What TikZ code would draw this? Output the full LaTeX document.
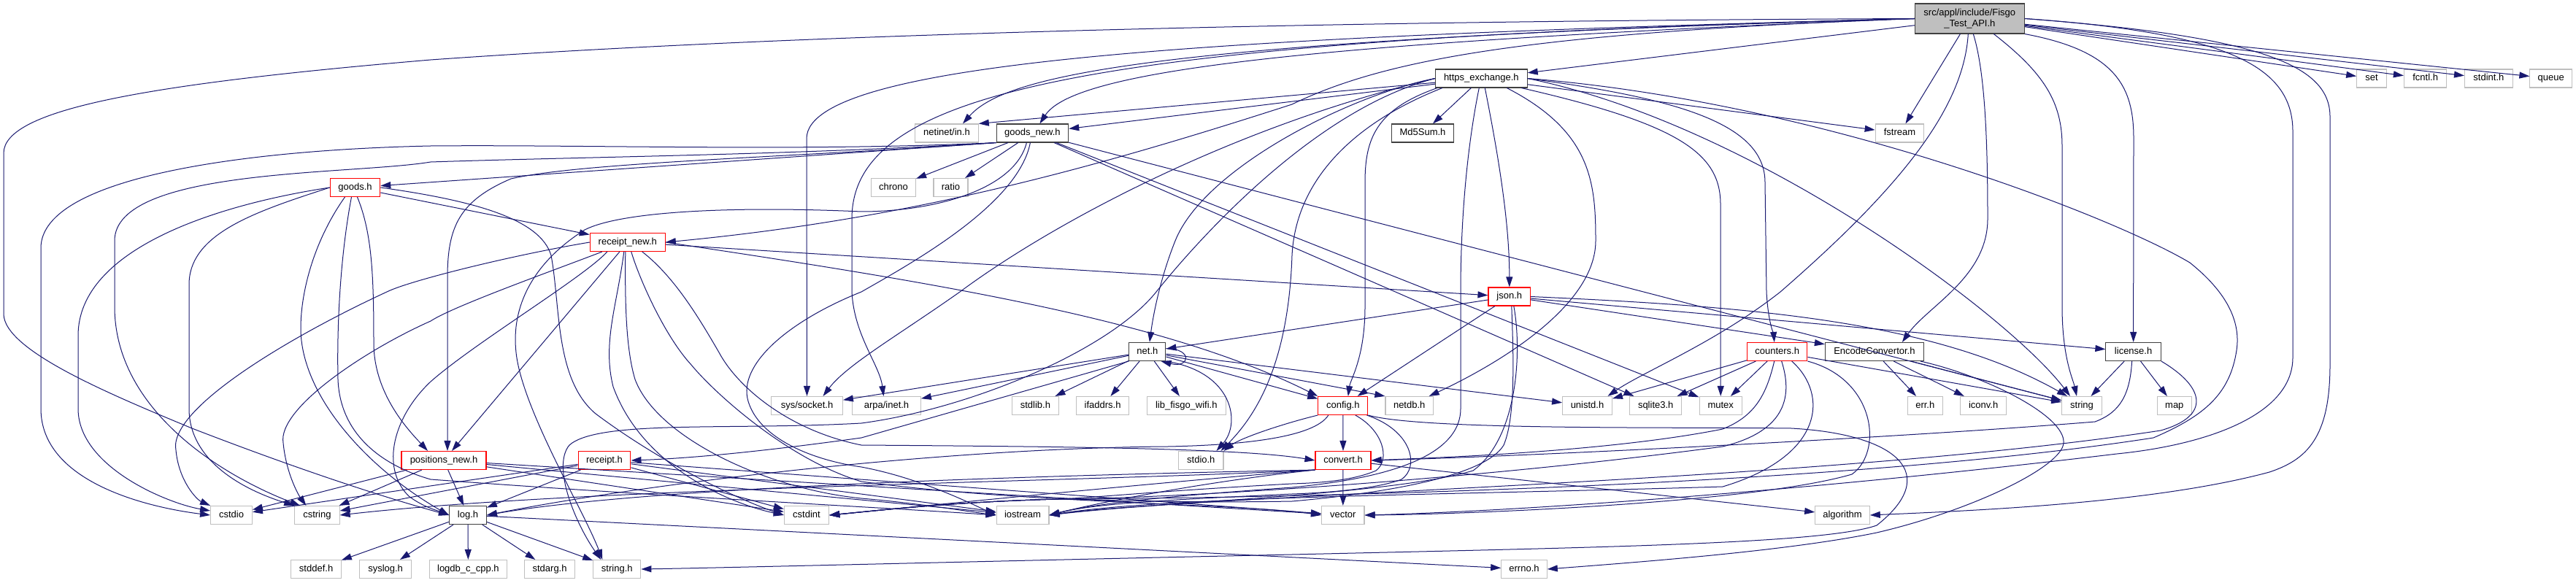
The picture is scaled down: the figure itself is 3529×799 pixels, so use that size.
\documentclass[tikz,border=0pt]{standalone}
\usepackage{fontspec}
\setmainfont{Liberation Sans}
\usetikzlibrary{arrows.meta}
\definecolor{edgec}{HTML}{191970}
\definecolor{grayc}{HTML}{BFBFBF}
\definecolor{redc}{HTML}{FF0000}
\definecolor{blkc}{HTML}{404040}
\definecolor{rootfill}{HTML}{BFBFBF}
\newcommand{\nfs}{\fontsize{13}{15}\selectfont}
\tikzset{
 nb/.style={rectangle, draw, line width=1.1pt, inner sep=0pt, minimum height=25pt, text height=9.5pt, text depth=3pt, font=\nfs, fill=white},
 ext/.style={nb, draw=grayc},
 trunc/.style={nb, draw=redc},
 doc/.style={nb, draw=blkc},
 rootn/.style={rectangle, draw=blkc, fill=rootfill, line width=1.1pt, inner sep=0pt, minimum height=41pt, minimum width=150pt, align=center, font=\nfs},
 edg/.style={draw=edgec, line width=1pt, -{Triangle[length=14pt,width=9pt]}},
}
\begin{document}
\begin{tikzpicture}[x=1pt,y=-1pt]
\fill[white] (0,0) rectangle (3529,799);
\useasboundingbox (0,0) rectangle (3529,799);
% ---------------- nodes
\node[rootn] (R) at (2698.3,25.5) {src/appl/include/Fisgo\\\_Test\_API.h};
\node[doc, minimum width=125.7pt] (https) at (2029.3,107.5) {https\_exchange.h};
\node[ext, minimum width=40.6pt] (set) at (3249,107.5) {set};
\node[ext, minimum width=58.4pt] (fcntl) at (3322.6,107.5) {fcntl.h};
\node[ext, minimum width=65.7pt] (stdint) at (3409.4,107.5) {stdint.h};
\node[ext, minimum width=57.6pt] (queue) at (3494.7,107.5) {queue};
\node[ext, minimum width=86.5pt] (netinet) at (1297,182.5) {netinet/in.h};
\node[doc, minimum width=98.6pt] (goodsnew) at (1414.4,182.5) {goods\_new.h};
\node[doc, minimum width=85.8pt] (md5) at (1949,182.5) {Md5Sum.h};
\node[ext, minimum width=66.6pt] (fstream) at (2602.5,182.5) {fstream};
\node[trunc, minimum width=68.5pt] (goods) at (486.5,257) {goods.h};
\node[ext, minimum width=61.3pt] (chrono) at (1223.9,257) {chrono};
\node[ext, minimum width=47pt] (ratio) at (1302.5,257) {ratio};
\node[trunc, minimum width=103pt] (receiptnew) at (859.8,332) {receipt\_new.h};
\node[trunc, minimum width=57.6pt] (json) at (2067.8,406.5) {json.h};
\node[doc, minimum width=50pt] (net) at (1571.9,482) {net.h};
\node[trunc, minimum width=82.4pt] (counters) at (2434.7,482) {counters.h};
\node[doc, minimum width=135pt] (encconv) at (2567.9,482) {EncodeConvertor.h};
\node[doc, minimum width=75.4pt] (license) at (2922.6,482) {license.h};
\node[ext, minimum width=97.8pt] (syssocket) at (1105.5,556) {sys/socket.h};
\node[ext, minimum width=93.7pt] (arpa) at (1214.5,556) {arpa/inet.h};
\node[ext, minimum width=64.3pt] (stdlib) at (1418.4,556) {stdlib.h};
\node[ext, minimum width=72.6pt] (ifaddrs) at (1510.6,556) {ifaddrs.h};
\node[ext, minimum width=108pt] (libwifi) at (1625.3,556) {lib\_fisgo\_wifi.h};
\node[trunc, minimum width=68.1pt] (config) at (1839.8,556) {config.h};
\node[ext, minimum width=65.5pt] (netdb) at (1930.7,556) {netdb.h};
\node[ext, minimum width=67.8pt] (unistd) at (2174.5,556) {unistd.h};
\node[ext, minimum width=70.8pt] (sqlite) at (2268.2,556) {sqlite3.h};
\node[ext, minimum width=58.3pt] (mutex) at (2357.2,556) {mutex};
\node[ext, minimum width=48.2pt] (err) at (2637.3,556) {err.h};
\node[ext, minimum width=63.2pt] (iconv) at (2717.1,556) {iconv.h};
\node[ext, minimum width=54.6pt] (string) at (2852,556) {string};
\node[ext, minimum width=47.2pt] (map) at (2978.8,556) {map};
\node[trunc, minimum width=116pt] (positionsnew) at (608,631) {positions\_new.h};
\node[trunc, minimum width=71.8pt] (receipt) at (828,631) {receipt.h};
\node[ext, minimum width=61.3pt] (stdio) at (1645.3,631) {stdio.h};
\node[trunc, minimum width=76pt] (convert) at (1840,631) {convert.h};
\node[ext, minimum width=56.8pt] (cstdio) at (317,706) {cstdio};
\node[ext, minimum width=61.4pt] (cstring) at (434.4,706) {cstring};
\node[doc, minimum width=50.8pt] (log) at (641,706) {log.h};
\node[ext, minimum width=61.3pt] (cstdint) at (1105,706) {cstdint};
\node[ext, minimum width=71.9pt] (iostream) at (1401,706) {iostream};
\node[ext, minimum width=58.4pt] (vector) at (1839.8,706) {vector};
\node[ext, minimum width=74.5pt] (algorithm) at (2524,706) {algorithm};
\node[ext, minimum width=68.4pt] (stddef) at (433.1,780) {stddef.h};
\node[ext, minimum width=70.4pt] (syslog) at (528.1,780) {syslog.h};
\node[ext, minimum width=106.5pt] (logdb) at (641.4,780) {logdb\_c\_cpp.h};
\node[ext, minimum width=68.8pt] (stdarg) at (753.1,780) {stdarg.h};
\node[ext, minimum width=65.1pt] (stringh) at (845.3,780) {string.h};
\node[ext, minimum width=62.5pt] (errno) at (2088,780) {errno.h};
% ---------------- root edges
\draw[edg] (R) -- (https);
\draw[edg] (R) -- (set);
\draw[edg] (R) -- (fcntl);
\draw[edg] (R) -- (stdint);
\draw[edg] (R) -- (queue);
\draw[edg] (R) -- (fstream);
\draw[edg] (R.west) .. controls (1750,60) and (1470,100) .. ([xshift=10pt]goodsnew.north);
\draw[edg] (R.west) .. controls (1600,55) and (1380,100) .. ([xshift=22pt]netinet.north);
\draw[edg] (R.west) .. controls (1700,50) and (1105,80) .. (1105,190) -- (syssocket.north);
\draw[edg] (R.west) .. controls (1500,55) and (1167,120) .. (1167,300) -- (1167,400) .. controls (1170,460) and (1205,500) .. ([xshift=-4pt]arpa.north);
\draw[edg] (R.west) .. controls (1500,30) and (900,60) .. (590,82) .. controls (200,115) and (5,150) .. (5,210) -- (5,430) .. controls (5,480) and (150,540) .. (263,587) .. controls (400,640) and (520,680) .. (log.west);
\draw[edg] (R.west) .. controls (2100,45) and (1900,80) .. (1770,143) .. controls (1500,230) and (1250,300) .. (receiptnew.east);
\draw[edg] ([xshift=-2pt]R.south) .. controls (2690,150) and (2600,260) .. (2439,400) .. controls (2350,470) and (2250,510) .. ([xshift=28pt]unistd.north);
\draw[edg] ([xshift=5pt]R.south) .. controls (2720,100) and (2723,200) .. (2723,300) .. controls (2723,380) and (2640,420) .. ([xshift=38pt]encconv.north);
\draw[edg] ([xshift=33pt]R.south) .. controls (2800,100) and (2825,140) .. (2825,200) -- (2825,420) .. controls (2825,490) and (2840,520) .. ([xshift=-7pt]string.north);
\draw[edg] (R.south east) .. controls (2900,70) and (2923,120) .. (2923,190) -- (license.north);
\draw[edg] (R.east) .. controls (3050,45) and (3141,90) .. (3141,180) -- (3141,490) .. controls (3141,570) and (3020,610) .. (2900,622) .. controls (2500,670) and (2100,700) .. (vector.east);
\draw[edg] (R.east) .. controls (3100,50) and (3192,90) .. (3192,160) -- (3192,500) .. controls (3192,600) and (3160,630) .. (3109,647) .. controls (2950,690) and (2700,700) .. (algorithm.east);
% ---------------- https_exchange edges
\draw[edg] (https) -- (md5);
\draw[edg] ([xshift=5pt]https.south) .. controls (2050,200) and (2068,300) .. (json.north);
\draw[edg] (https) -- (netinet.north east);
\draw[edg] (https) -- (goodsnew);
\draw[edg] (https.west) .. controls (1850,130) and (1650,230) .. (1610,330) .. controls (1590,380) and (1580,430) .. ([xshift=3pt]net.north);
\draw[edg] (https.west) .. controls (1700,170) and (1450,300) .. (1315,400) .. controls (1230,460) and (1160,500) .. ([xshift=22pt]syssocket.north);
\draw[edg] (https.west) .. controls (1800,150) and (1640,330) .. (1584,400) .. controls (1520,480) and (1330,560) .. (1180,580) .. controls (1000,590) and (820,575) .. (780,610) .. controls (755,640) and (790,720) .. ([xshift=-22pt]stringh.north);
\draw[edg] ([xshift=10pt]https.south west) .. controls (1850,170) and (1775,250) .. (1770,350) .. controls (1765,500) and (1720,570) .. ([xshift=-4pt]stdio.north east);
\draw[edg] ([xshift=3pt]https.south west) .. controls (1885,150) and (1870,190) .. (1870,250) -- (1870,420) .. controls (1870,490) and (1850,520) .. ([xshift=7pt]config.north);
\draw[edg] ([xshift=-3pt]https.south) .. controls (2010,200) and (2001,300) .. (2001,400) -- (2001,560) .. controls (2001,640) and (1850,660) .. (1770,668) .. controls (1600,680) and (1500,690) .. (iostream.east);
\draw[edg] ([xshift=35pt]https.south) .. controls (2180,180) and (2186,250) .. (2186,330) .. controls (2186,420) and (2050,500) .. ([xshift=27pt]netdb.north);
\draw[edg] ([xshift=55pt]https.south) .. controls (2300,170) and (2357,210) .. (2357,280) -- (mutex.north);
\draw[edg] (https) -- (fstream);
\draw[edg] (https.east) .. controls (2300,135) and (2418,170) .. (2418,250) -- (2420,400) .. controls (2422,440) and (2430,460) .. ([xshift=-4pt]counters.north);
\draw[edg] (https.east) .. controls (2400,170) and (2750,430) .. ([xshift=-16pt]string.north);
\draw[edg] (https.east) .. controls (2500,140) and (2900,300) .. (3000,360) .. controls (3050,400) and (3070,440) .. (3064,480) .. controls (3055,540) and (3020,570) .. (2950,600) .. controls (2500,670) and (1700,683) .. (1450,684) .. controls (1300,688) and (1200,700) .. (cstdint.east);
% ---------------- goods_new edges
\draw[edg] (goodsnew) -- (chrono);
\draw[edg] (goodsnew) -- (ratio);
\draw[edg] (goodsnew.south west) -- (goods);
\draw[edg] (goodsnew.south west) .. controls (1100,208) and (800,198) .. (590,200) .. controls (350,205) and (56,240) .. (56,340) -- (56,560) .. controls (56,660) and (200,695) .. (cstdio.west);
\draw[edg] (goodsnew.south west) .. controls (1100,212) and (800,215) .. (590,222) .. controls (480,240) and (157,230) .. (157,330) -- (157,420) .. controls (157,560) and (300,650) .. ([xshift=8pt]cstring.north west);
\draw[edg] (goodsnew.south west) .. controls (1100,215) and (800,222) .. (700,245) .. controls (630,275) and (613,310) .. (613,380) -- ([xshift=5pt]positionsnew.north);
\draw[edg] ([xshift=-8pt]goodsnew.south) .. controls (1390,260) and (1280,290) .. (1180,290) .. controls (1000,282) and (850,290) .. (801,315) .. controls (730,360) and (700,420) .. (707,483) .. controls (715,560) and (800,700) .. ([xshift=-20pt]stringh.north);
\draw[edg] (goodsnew) -- (string);
\draw[edg] (goodsnew) -- (mutex);
\draw[edg] (goodsnew) -- (sqlite);
\draw[edg] ([xshift=-3pt]goodsnew.south) .. controls (1395,280) and (1250,360) .. (1180,400) .. controls (1080,440) and (1010,500) .. (1025,550) .. controls (1040,600) and (1110,630) .. (1180,640) .. controls (1260,655) and (1330,690) .. (iostream.west);
% ---------------- goods edges
\draw[edg] (goods) -- (receiptnew);
\draw[edg] (goods.west) .. controls (300,280) and (107,340) .. (107,460) -- (107,560) .. controls (107,640) and (230,690) .. ([yshift=6pt]cstdio.west);
\draw[edg] (goods.west) .. controls (350,290) and (259,320) .. (259,390) -- (259,560) .. controls (259,630) and (330,670) .. (cstring.north west);
\draw[edg] ([xshift=-14pt]goods.south) .. controls (430,330) and (412,400) .. (412,450) .. controls (412,540) and (500,640) .. (log.west);
\draw[edg] ([xshift=-5pt]goods.south) .. controls (470,330) and (461,420) .. (463,520) .. controls (466,600) and (530,640) .. (590,657) .. controls (900,680) and (1200,695) .. (iostream.west);
\draw[edg] ([xshift=3pt]goods.south) .. controls (510,320) and (512,380) .. (512,470) .. controls (512,540) and (560,590) .. ([xshift=-22pt]positionsnew.north);
\draw[edg] (goods.east) .. controls (650,275) and (740,300) .. (755,350) .. controls (768,420) and (760,520) .. (816,567) .. controls (900,630) and (1000,680) .. (cstdint.west);
% ---------------- receipt_new edges
\draw[edg] (receiptnew.west) .. controls (700,350) and (560,385) .. (530,400) .. controls (400,460) and (230,560) .. (241,617) .. controls (245,660) and (270,685) .. (cstdio.north west);
\draw[edg] ([xshift=-35pt]receiptnew.south) .. controls (760,370) and (620,420) .. (590,440) .. controls (500,480) and (380,560) .. (388,607) .. controls (392,650) and (410,680) .. ([xshift=-15pt]cstring.north);
\draw[edg] ([xshift=-28pt]receiptnew.south) .. controls (800,380) and (650,470) .. (590,523) .. controls (540,570) and (520,640) .. (560,680) .. controls (580,695) and (600,700) .. (log.west);
\draw[edg] (receiptnew) -- (positionsnew);
\draw[edg] ([xshift=-5pt]receiptnew.south) .. controls (845,420) and (825,470) .. (840,530) .. controls (880,640) and (1000,690) .. (cstdint.west);
\draw[edg] ([xshift=-3pt]receiptnew.south) .. controls (856,420) and (858,480) .. (870,520) .. controls (900,600) and (1050,670) .. (1180,683) .. controls (1260,690) and (1320,700) .. (iostream.west);
\draw[edg] ([xshift=5pt]receiptnew.south) .. controls (875,380) and (910,460) .. (947,500) .. controls (980,540) and (1080,630) .. (1180,660) .. controls (1400,690) and (1700,690) .. (vector.west);
\draw[edg] ([xshift=20pt]receiptnew.south) .. controls (925,380) and (960,440) .. (985,483) .. controls (1010,530) and (1080,590) .. (1180,610) .. controls (1450,612) and (1700,614) .. (convert.west);
\draw[edg] (receiptnew) -- (json);
\draw[edg] (receiptnew.east) .. controls (1300,390) and (1600,440) .. (config.north west);
% ---------------- net edges
\draw[edg] (net) -- (arpa);
\draw[edg] (net) -- (syssocket);
\draw[edg] (net) -- (stdlib);
\draw[edg] (net) -- (ifaddrs);
\draw[edg] (net) -- (libwifi);
\draw[edg] (net.south east) .. controls (1690,510) and (1700,580) .. ([xshift=-10pt]stdio.north east);
\draw[edg] (net.10) .. controls (1635,478) and (1630,505) .. (net.-35);
\draw[edg] (net) -- (netdb.north west);
\draw[edg] (net) -- (unistd);
\draw[edg] (net) -- (config);
\draw[edg] (net.south west) -- (1180,600) .. controls (1050,618) and (950,628) .. (receipt.east);
% ---------------- json edges
\draw[edg] (json) -- (net);
\draw[edg] (json) -- (config);
\draw[edg] (json) -- (license);
\draw[edg] (json.east) .. controls (2400,420) and (2650,440) .. ([xshift=-20pt]string.north);
\draw[edg] (json) -- (encconv);
\draw[edg] ([xshift=3pt]json.south) .. controls (2073,480) and (2077,570) .. (2060,610) .. controls (2030,660) and (1850,680) .. (1770,687) .. controls (1600,690) and (1500,684) .. (1450,684) .. controls (1300,688) and (1200,700) .. (cstdint.east);
\draw[edg] ([xshift=6pt]json.south) .. controls (2085,480) and (2080,600) .. (2018,645) .. controls (1900,680) and (1550,690) .. (iostream.east);
% ---------------- counters edges
\draw[edg] (counters) -- (unistd);
\draw[edg] (counters) -- (sqlite);
\draw[edg] (counters) -- (mutex);
\draw[edg] (counters) -- (string);
\draw[edg] ([xshift=-4pt]counters.south) .. controls (2420,540) and (2405,570) .. (2360,588) .. controls (2200,620) and (1950,628) .. (convert.east);
\draw[edg] ([xshift=6pt]counters.south) .. controls (2455,540) and (2450,590) .. (2360,612) .. controls (2000,660) and (1600,683) .. (1450,684) .. controls (1300,688) and (1200,700) .. (cstdint.east);
\draw[edg] ([xshift=20pt]counters.south) .. controls (2505,540) and (2500,625) .. (2360,667) .. controls (2000,678) and (1600,680) .. (iostream.east);
\draw[edg] (counters.south east) .. controls (2570,520) and (2580,620) .. (2537,650) .. controls (2400,690) and (2000,705) .. (vector.east);
% ---------------- EncodeConvertor edges
\draw[edg] (encconv) -- (err);
\draw[edg] (encconv) -- (iconv);
\draw[edg] (encconv) -- (string);
\draw[edg] ([xshift=63pt]encconv.south) .. controls (2720,515) and (2830,570) .. (2827,607) .. controls (2825,640) and (2700,700) .. (2571,730) .. controls (2450,755) and (2250,770) .. (errno.east);
% ---------------- config edges
\draw[edg] (config) -- (convert);
\draw[edg] (config.south west) .. controls (1760,580) and (1700,600) .. (stdio.north east);
\draw[edg] ([xshift=-20pt]config.south) .. controls (1800,600) and (1700,610) .. (1600,612) .. controls (1300,614) and (900,660) .. (log.east);
\draw[edg] ([xshift=17pt]config.south) .. controls (1895,590) and (1905,630) .. (1885,645) .. controls (1850,660) and (1800,662) .. (1770,663) .. controls (1600,672) and (1500,682) .. (1450,684) .. controls (1300,688) and (1200,700) .. (cstdint.east);
\draw[edg] ([xshift=-2pt]config.south east) .. controls (1935,590) and (1945,640) .. (1920,657) .. controls (1880,672) and (1800,676) .. (1770,677) .. controls (1600,685) and (1500,690) .. (iostream.east);
\draw[edg] (config.south east) .. controls (1950,590) and (2300,585) .. (2454,587) .. controls (2600,595) and (2660,650) .. (2571,720) .. controls (2500,745) and (2200,750) .. (1770,760) .. controls (1400,768) and (1000,778) .. (stringh.east);
% ---------------- convert edges
\draw[edg] (convert) -- (vector);
\draw[edg] (convert) -- (algorithm);
\draw[edg] (convert.south west) .. controls (1500,660) and (800,668) .. (cstring.east);
\draw[edg] (convert.south west) .. controls (1600,660) and (1300,690) .. (cstdint.east);
\draw[edg] (convert.south west) .. controls (1650,660) and (1500,690) .. (iostream.east);
\draw[edg] (convert.south west) .. controls (1500,650) and (900,665) .. (log.east);
% ---------------- positions_new edges
\draw[edg] (positionsnew) -- (log);
\draw[edg] (positionsnew) -- (cstdio);
\draw[edg] (positionsnew) -- (cstring);
\draw[edg] (positionsnew) -- (cstdint);
\draw[edg] (positionsnew) -- (iostream);
\draw[edg] (positionsnew) -- (vector);
% ---------------- receipt edges
\draw[edg] (receipt) -- (cstdio);
\draw[edg] (receipt) -- (cstring);
\draw[edg] (receipt) -- (log);
\draw[edg] (receipt) -- (cstdint);
\draw[edg] (receipt) -- (iostream);
\draw[edg] (receipt) -- (vector);
% ---------------- log edges
\draw[edg] (log) -- (stddef);
\draw[edg] (log) -- (syslog);
\draw[edg] (log) -- (logdb);
\draw[edg] (log) -- (stdarg);
\draw[edg] (log) -- (stringh);
\draw[edg] (log) -- (errno);
% ---------------- license edges
\draw[edg] (license) -- (string);
\draw[edg] (license) -- (map);
\draw[edg] ([xshift=-2pt]license.south) .. controls (2918,540) and (2905,565) .. (2870,578) .. controls (2600,600) and (2100,625) .. (convert.east);
\draw[edg] (license.south east) .. controls (3020,530) and (3030,570) .. (2960,590) .. controls (2500,660) and (1700,675) .. (iostream.east);
\end{tikzpicture}
\end{document}
